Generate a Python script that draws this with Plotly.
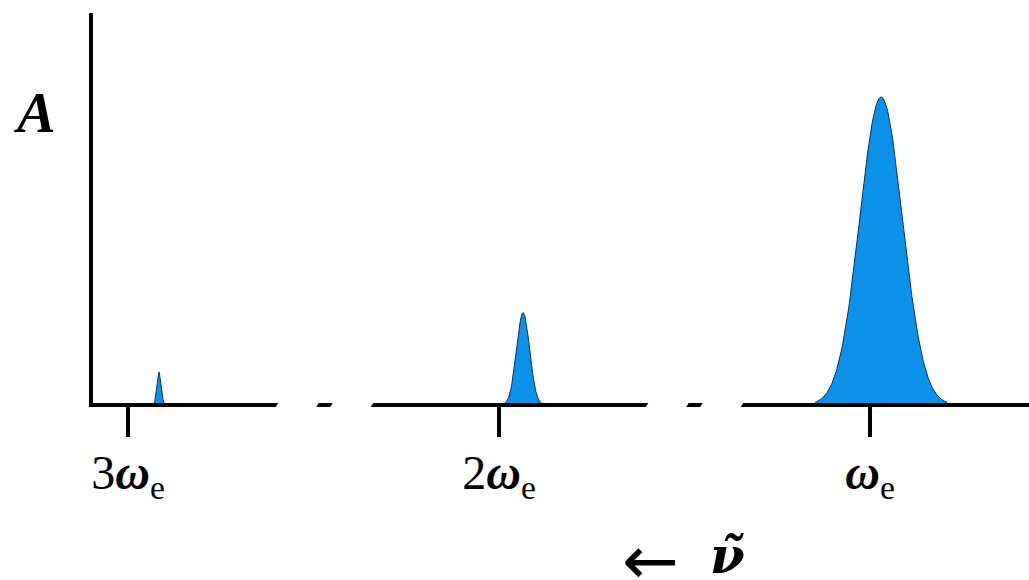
import numpy as np
import plotly.graph_objects as go

# Vibrational bands, positions in units of the harmonic wavenumber ωe
tick_positions = [3, 2, 1]
tick_labels = ["3<b><i>ω</i></b><sub>e</sub>", "2<b><i>ω</i></b><sub>e</sub>",
               "<b><i>ω</i></b><sub>e</sub>"]
band_centers = [2.916, 1.935, 0.970]     # 2nd overtone, 1st overtone, fundamental
band_heights = [0.107, 0.30, 1.00]       # relative absorbance A
band_sigmas = [0.0055, 0.0175, 0.0575]   # gaussian width (σ), ωe units

# Frame geometry (pixels)
W, H = 1029, 580
X_AT_ONE = 870.0       # pixel column of ωe
PX_PER_WE = 371.0      # pixels per ωe
Y_ZERO = 405.0         # pixel row of the baseline
PX_PER_A = 308.0       # pixels per unit of A
Y_TOP = 13.0           # top of the ordinate line
LINE_W = 4

BLUE = "#0c91ea"
EDGE = "#0c2f52"
FONT = "Liberation Serif, Times New Roman, serif"


def paper_x(px):
    return px / W


def paper_y(py):
    return (Y_ZERO - py) / (Y_ZERO - Y_TOP)


fig = go.Figure()

for c, h, s in zip(band_centers, band_heights, band_sigmas):
    xs = np.linspace(c - 3.1 * s, c + 3.1 * s, 241)
    ys = h * np.exp(-0.5 * ((xs - c) / s) ** 2)
    fig.add_trace(go.Scatter(
        x=xs, y=ys, mode="lines", fill="tozeroy",
        fillcolor=BLUE, line=dict(color=EDGE, width=1),
        hoverinfo="skip", showlegend=False,
    ))

# Broken abscissa: solid runs separated by short slanted dashes
runs = [(89, 277), (317.5, 331.5), (372, 647), (687.5, 701.5), (742, 1032)]
slant = 2.5
shapes = []
for i, (a, b) in enumerate(runs):
    ta = a + (slant / 2 if i > 0 else 0)
    ba = a - (slant / 2 if i > 0 else 0)
    tb = b + (slant / 2 if i < len(runs) - 1 else 0)
    bb = b - (slant / 2 if i < len(runs) - 1 else 0)
    y0, y1 = Y_ZERO - LINE_W / 2, Y_ZERO + LINE_W / 2
    path = (f"M{paper_x(ta)},{paper_y(y0)} L{paper_x(tb)},{paper_y(y0)} "
            f"L{paper_x(bb)},{paper_y(y1)} L{paper_x(ba)},{paper_y(y1)} Z")
    shapes.append(dict(type="path", path=path, xref="paper", yref="paper",
                       fillcolor="black", line=dict(width=0), layer="above"))

# Ordinate line
shapes.append(dict(type="rect", xref="paper", yref="paper",
                   x0=paper_x(89), x1=paper_x(93),
                   y0=paper_y(Y_ZERO + LINE_W / 2), y1=paper_y(Y_TOP),
                   fillcolor="black", line=dict(width=0), layer="above"))

annotations = [
    dict(text="<b><i>A</i></b>", x=paper_x(12), y=paper_y(113),
         xref="paper", yref="paper", xanchor="left", yanchor="middle",
         showarrow=False, font=dict(family=FONT, size=58, color="black")),
    dict(text="←", x=paper_x(650), y=paper_y(560), height=38, valign="middle",
         xref="paper", yref="paper", xanchor="center", yanchor="middle",
         showarrow=False, font=dict(family="DejaVu Sans", size=68, color="black")),
    dict(text="<b><i>ν̃</i></b>", x=paper_x(727), y=paper_y(555), height=46,
         valign="middle",
         xref="paper", yref="paper", xanchor="center", yanchor="middle",
         showarrow=False, font=dict(family="DejaVu Serif", size=50, color="black")),
]

fig.update_layout(
    width=W, height=H, autosize=False,
    margin=dict(l=0, r=0, t=Y_TOP, b=H - Y_ZERO, pad=0),
    paper_bgcolor="white", plot_bgcolor="white",
    shapes=shapes, annotations=annotations,
    xaxis=dict(
        range=[1 + X_AT_ONE / PX_PER_WE, 1 - (W - X_AT_ONE) / PX_PER_WE],
        showgrid=False, zeroline=False, showline=False,
        tickmode="array", tickvals=tick_positions, ticktext=tick_labels,
        ticks="outside", ticklen=31, tickwidth=4, tickcolor="black",
        tickfont=dict(family=FONT, size=48, color="black"),
        ticklabelstandoff=-6,
    ),
    yaxis=dict(
        range=[0, (Y_ZERO - Y_TOP) / PX_PER_A],
        showgrid=False, zeroline=False, showline=False,
        showticklabels=False, ticks="",
    ),
)

fig.write_html("out.html")
